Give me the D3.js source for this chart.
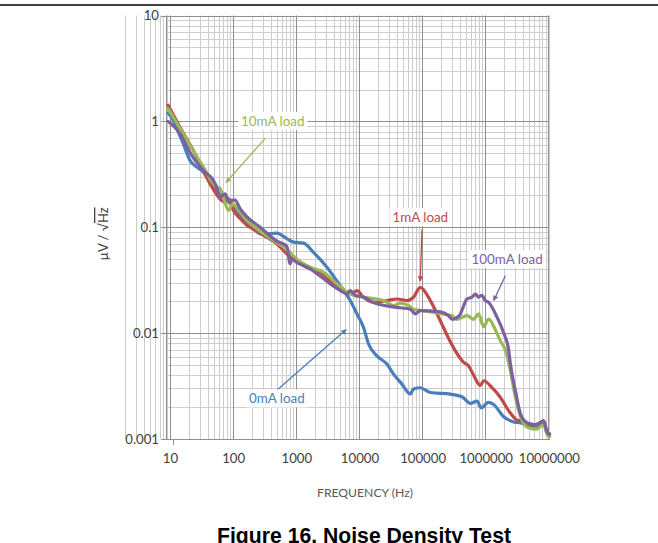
<!DOCTYPE html>
<html><head><meta charset="utf-8">
<script src="https://cdn.jsdelivr.net/npm/d3@7"></script>
<style>
body{margin:0;background:#fff;}
svg{display:block;}
</style></head>
<body>
<svg id="c" width="658" height="543"></svg>
<script>
// ---- data (frequency Hz, noise µV/√Hz) ----
const noise0mA = [[9.5,1.2],[11.5,1.02],[13.8,0.79],[16.5,0.615],[21.1,0.428],[27,0.37],[32.4,0.344],[41.2,0.287],[50,0.24],[60,0.21],[75,0.19],[90,0.17],[110,0.15],[140,0.125],[180,0.105],[230,0.093],[272,0.0867],[400,0.087],[500,0.088],[721,0.078],[919,0.0723],[1322,0.0708],[1905,0.058],[3105,0.042],[5050,0.0281],[7280,0.0203],[9290,0.0152],[11810,0.0113],[14180,0.0079],[19230,0.0061],[27720,0.0051],[35340,0.0041],[47950,0.0033],[65000,0.00266],[73300,0.00297],[93300,0.00305],[134900,0.00275],[280000,0.00265],[428000,0.00251],[581000,0.00217],[741000,0.00228],[858000,0.00197],[1130000,0.00222],[1360000,0.00212],[1960000,0.00162],[2820000,0.00145],[3600000,0.00142],[5000000,0.00135],[6500000,0.0013],[8400000,0.0014],[9500000,0.00115],[10400000,0.0011]];
const noise1mA = [[9.5,1.42],[14.7,0.88],[23.8,0.532],[43.8,0.258],[52.5,0.215],[67,0.179],[76,0.172],[85.6,0.186],[102,0.145],[130,0.122],[167,0.105],[241,0.092],[350,0.08],[500,0.07],[721,0.056],[1038,0.047],[1690,0.0405],[2430,0.0375],[3500,0.031],[5690,0.0252],[7500,0.0235],[9290,0.0252],[11700,0.0219],[17000,0.0195],[27700,0.0203],[40000,0.021],[57500,0.0203],[73300,0.0219],[93500,0.0271],[135000,0.0203],[194000,0.0131],[250000,0.0095],[336000,0.0068],[455000,0.0053],[546000,0.0049],[655000,0.004],[836000,0.0032],[944000,0.00355],[1280000,0.00305],[1730000,0.00248],[2350000,0.00185],[3380000,0.00149],[3800000,0.00151],[4500000,0.0014],[5500000,0.00135],[7000000,0.0014],[8400000,0.00148],[9500000,0.00117],[10400000,0.00112]];
const noise10mA = [[9.5,1.32],[16.5,0.765],[34.4,0.37],[55.9,0.239],[62,0.235],[72,0.19],[85.7,0.144],[100,0.165],[130,0.14],[170,0.115],[250,0.095],[400,0.078],[500,0.072],[721,0.062],[1038,0.05],[1690,0.042],[2750,0.0375],[4450,0.0293],[7280,0.0234],[11700,0.0219],[19200,0.021],[24700,0.0203],[35300,0.0182],[45000,0.0192],[61000,0.0182],[73300,0.0168],[100000,0.0163],[135000,0.0159],[210000,0.0152],[302000,0.0146],[350000,0.0135],[514000,0.0146],[655000,0.0135],[782000,0.0152],[944000,0.0115],[1130000,0.0136],[1450000,0.0107],[1730000,0.0085],[2100000,0.0068],[2500000,0.0044],[3000000,0.00248],[3700000,0.00157],[4800000,0.00128],[6500000,0.00124],[8400000,0.00137],[9500000,0.00111],[10400000,0.00105]];
const noise100mA = [[9.5,1.0],[14.7,0.765],[22.5,0.477],[34.4,0.344],[49.5,0.277],[55.9,0.239],[63,0.192],[75.6,0.207],[85.7,0.179],[109,0.18],[131,0.15],[167,0.126],[272,0.1],[500,0.074],[721,0.066],[813,0.0452],[870,0.05],[1038,0.0467],[1690,0.0405],[3500,0.0292],[5690,0.0243],[6400,0.0234],[7280,0.0252],[8710,0.0228],[11700,0.0219],[17000,0.0195],[40000,0.0175],[65000,0.0168],[78000,0.0152],[93500,0.0163],[194000,0.0159],[260000,0.0147],[302000,0.0135],[388000,0.0146],[514000,0.021],[616000,0.0219],[700000,0.0234],[782000,0.0219],[880000,0.0228],[1000000,0.0203],[1130000,0.0195],[1540000,0.0141],[1960000,0.01],[2350000,0.0069],[2500000,0.0051],[3000000,0.00286],[3700000,0.00166],[4800000,0.00141],[6500000,0.00137],[8400000,0.00148],[9500000,0.00117],[10400000,0.0011]];

const seriesNames = ["0mA load","1mA load","10mA load","100mA load"];
const seriesColors = ["#4A7EBB","#BE4B48","#98B954","#7D60A0"];
const xTickValues = [10,100,1000,10000,100000,1000000,10000000];
const xTickLabels = ["10","100","1000","10000","100000","1000000","10000000"];
const yTickValues = [0.001,0.01,0.1,1,10];
const yTickLabels = ["0.001","0.01","0.1","1","10"];
// annotation label positions and arrow (from -> to), in data coordinates
const annoLabel = [[500,0.00239],[93500,0.1236],[430,1.0],[2220000,0.0495]];
const annoFrom  = [[500,0.00289],[99600,0.0951],[327,0.69],[2080000,0.0348]];
const annoTo    = [[6280,0.0108],[93500,0.031],[78.7,0.265],[1360000,0.0203]];

const svg = d3.select("#c");
const x = d3.scaleLog().domain([8.8,1.06e7]).range([166,550]);
const y = d3.scaleLog().domain([0.001,10]).range([439,15.5]);

// top rule
svg.append("line").attr("x1",0).attr("x2",658).attr("y1",5).attr("y2",5).attr("stroke","#000").attr("stroke-width",1.3);

// grid
const minorCol = "#cdcdcd", majorCol = "#8f8f8f";
const g = svg.append("g");
const minorX = [], minorY = [];
for (let e=0;e<7;e++){ for(let m=2;m<=9;m++){ const v=m*Math.pow(10,e); if(v<=1.06e7) minorX.push(v);} }
for (let e=-3;e<1;e++){ for(let m=2;m<=9;m++){ minorY.push(m*Math.pow(10,e)); } }
g.selectAll(".mx").data(minorX).join("line").attr("x1",d=>Math.round(x(d))+0.5).attr("x2",d=>Math.round(x(d))+0.5)
 .attr("y1",y(10)).attr("y2",y(0.001)).attr("stroke",minorCol).attr("stroke-width",1);
g.selectAll(".my").data(minorY).join("line").attr("y1",d=>Math.round(y(d))+0.5).attr("y2",d=>Math.round(y(d))+0.5)
 .attr("x1",166).attr("x2",550).attr("stroke",minorCol).attr("stroke-width",1);
g.selectAll(".Mx").data(xTickValues).join("line").attr("x1",d=>Math.round(x(d))+0.5).attr("x2",d=>Math.round(x(d))+0.5)
 .attr("y1",y(10)).attr("y2",y(0.001)).attr("stroke",majorCol).attr("stroke-width",1);
g.selectAll(".My").data(yTickValues).join("line").attr("y1",d=>Math.round(y(d))+0.5).attr("y2",d=>Math.round(y(d))+0.5)
 .attr("x1",166).attr("x2",550).attr("stroke",majorCol).attr("stroke-width",1);
g.append("line").attr("x1",166.5).attr("x2",166.5).attr("y1",y(10)).attr("y2",y(0.001)).attr("stroke",majorCol);
g.append("line").attr("x1",549.5).attr("x2",549.5).attr("y1",y(10)).attr("y2",y(0.001)).attr("stroke",minorCol);
g.append("line").attr("x1",166).attr("x2",550).attr("y1",Math.round(y(0.001))+0.5).attr("y2",Math.round(y(0.001))+0.5).attr("stroke",majorCol);
g.selectAll(".yt").data(yTickValues).join("line").attr("x1",161).attr("x2",166).attr("y1",d=>Math.round(y(d))+0.5).attr("y2",d=>Math.round(y(d))+0.5).attr("stroke",majorCol);
g.append("line").attr("x1",173.5).attr("x2",173.5).attr("y1",439).attr("y2",445).attr("stroke",majorCol);

// tick labels
const fontFam = "Lato, 'Open Sans', sans-serif";
svg.selectAll(".yl").data(yTickValues).join("text").attr("x",159).attr("y",d=>y(d)+4.5)
 .attr("text-anchor","end").attr("font-family",fontFam).attr("font-size",13.2).attr("fill","#404040")
 .text((d,i)=>yTickLabels[i]);
svg.selectAll(".xl").data(xTickValues).join("text").attr("x",d=>x(d)+1).attr("y",463)
 .attr("text-anchor","middle").attr("font-family",fontFam).attr("font-size",13.2).attr("fill","#404040")
 .text((d,i)=>xTickLabels[i]);

// axis titles
svg.append("text").attr("x",365).attr("y",497).attr("text-anchor","middle").attr("font-family",fontFam)
 .attr("font-size",12.2).attr("fill","#595959").text("FREQUENCY (Hz)");
const yt = svg.append("text").attr("transform","translate(108,234) rotate(-90)").attr("text-anchor","middle")
 .attr("font-family",fontFam).attr("font-size",13).attr("fill","#404040");
yt.append("tspan").text("\u00b5V / \u221a");
yt.append("tspan").attr("text-decoration","overline").text("Hz");

// title
svg.append("text").attr("x",364).attr("y",543).attr("text-anchor","middle").attr("font-family","'Liberation Sans', Arial, sans-serif")
 .attr("font-weight","bold").attr("font-size",21.2).attr("fill","#000").text("Figure 16. Noise Density Test");

// lines
svg.append("clipPath").attr("id","pc").append("rect").attr("x",160).attr("y",10).attr("width",392).attr("height",432);
const line = d3.line().x(d=>x(d[0])).y(d=>y(d[1])).curve(d3.curveMonotoneX);
const allSeries = [noise0mA, noise1mA, noise10mA, noise100mA];
svg.append("g").attr("clip-path","url(#pc)").selectAll("path").data(allSeries).join("path")
 .attr("d",line).attr("fill","none").attr("stroke",(d,i)=>seriesColors[i]).attr("stroke-width",3.2)
 .attr("stroke-linejoin","round").attr("stroke-linecap","round");

// annotations
const defs = svg.append("defs");
seriesColors.forEach((c,i)=>{
  defs.append("marker").attr("id","ah"+i).attr("viewBox","0 0 10 10").attr("refX",9).attr("refY",5)
   .attr("markerWidth",4.2).attr("markerHeight",4.2).attr("orient","auto")
   .append("path").attr("d","M0,0L10,5L0,10z").attr("fill",c);
});
const ag = svg.append("g");
seriesNames.forEach((name,i)=>{
  ag.append("line").attr("x1",x(annoFrom[i][0])).attr("y1",y(annoFrom[i][1]))
    .attr("x2",x(annoTo[i][0])).attr("y2",y(annoTo[i][1])).attr("stroke",seriesColors[i]).attr("stroke-width",1.3)
    .attr("marker-end","url(#ah"+i+")");
  const bg = ag.append("rect").attr("fill","#fff");
  const t = ag.append("text").attr("x",x(annoLabel[i][0])).attr("y",y(annoLabel[i][1])+4.5).attr("text-anchor","middle")
    .attr("font-family",fontFam).attr("font-size",13.4).attr("fill",seriesColors[i]).text(name);
  const bb = t.node().getBBox();
  bg.attr("x",bb.x-3).attr("y",bb.y-1).attr("width",bb.width+6).attr("height",bb.height+2);
});
</script>
</body></html>
